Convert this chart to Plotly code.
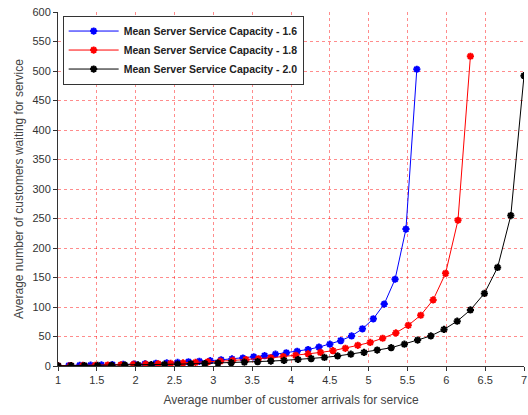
import plotly.graph_objects as go

# Series 1: Mean Server Service Capacity - 1.6
x_blue = [1.00, 1.14, 1.28, 1.42, 1.56, 1.70, 1.84, 1.98, 2.12, 2.26, 2.40, 2.54,
          2.68, 2.82, 2.96, 3.10, 3.24, 3.38, 3.52, 3.66, 3.80, 3.94, 4.08, 4.22,
          4.36, 4.50, 4.64, 4.78, 4.92, 5.06, 5.20, 5.34, 5.48, 5.62]
y_blue = [0.6, 0.8, 1.1, 1.4, 1.8, 2.2, 2.7, 3.2, 3.8, 4.5, 5.2, 6.0,
          7.0, 8.0, 9.0, 10.5, 12.0, 13.5, 15.5, 17.5, 20.0, 22.5, 25.0, 28.0,
          32.0, 37.0, 43.0, 51.0, 63.0, 80.0, 105.0, 147.0, 232.0, 503.0]

# Series 2: Mean Server Service Capacity - 1.8
x_red = [1.00, 1.16, 1.32, 1.48, 1.64, 1.81, 1.97, 2.13, 2.29, 2.45, 2.61, 2.77,
         2.93, 3.09, 3.25, 3.42, 3.58, 3.74, 3.90, 4.06, 4.22, 4.38, 4.54, 4.70,
         4.86, 5.02, 5.18, 5.35, 5.51, 5.67, 5.83, 5.99, 6.15, 6.31]
y_red = [0.5, 0.7, 1.0, 1.3, 1.7, 2.1, 2.6, 3.1, 3.7, 4.4, 5.2, 6.1,
         7.1, 8.2, 9.4, 10.8, 12.3, 14.0, 16.0, 18.0, 20.5, 23.0, 26.0, 30.0,
         35.0, 40.0, 47.0, 56.0, 69.0, 86.0, 112.0, 157.0, 247.0, 525.0]

# Series 3: Mean Server Service Capacity - 2.0
x_black = [1.00, 1.17, 1.34, 1.51, 1.69, 1.86, 2.03, 2.20, 2.37, 2.54, 2.71, 2.89,
           3.06, 3.23, 3.40, 3.57, 3.74, 3.91, 4.09, 4.26, 4.43, 4.60, 4.77, 4.94,
           5.11, 5.29, 5.46, 5.63, 5.80, 5.97, 6.14, 6.31, 6.49, 6.66, 6.83, 7.00]
y_black = [0.3, 0.5, 0.7, 0.9, 1.2, 1.5, 1.8, 2.2, 2.6, 3.1, 3.6, 4.2,
           4.9, 5.6, 6.4, 7.3, 8.3, 9.5, 11.0, 12.5, 14.5, 17.0, 20.0, 23.0,
           27.0, 31.0, 37.0, 44.0, 51.0, 62.0, 76.0, 95.0, 123.0, 167.0, 255.0, 492.0]

names = ["Mean Server Service Capacity - 1.6",
         "Mean Server Service Capacity - 1.8",
         "Mean Server Service Capacity - 2.0"]
colors = ["#0000ff", "#ff0000", "#000000"]

x_ticks = [1, 1.5, 2, 2.5, 3, 3.5, 4, 4.5, 5, 5.5, 6, 6.5, 7]
x_ticklabels = ["1", "1.5", "2", "2.5", "3", "3.5", "4", "4.5", "5", "5.5", "6", "6.5", "7"]
y_ticks = [0, 50, 100, 150, 200, 250, 300, 350, 400, 450, 500, 550, 600]

fig = go.Figure()
for xs, ys, nm, c in zip([x_blue, x_red, x_black], [y_blue, y_red, y_black], names, colors):
    fig.add_trace(go.Scatter(
        x=xs, y=ys, name=nm, mode="lines+markers",
        line=dict(color=c, width=1),
        marker=dict(symbol="asterisk-open", size=6, color=c,
                    line=dict(color=c, width=2)),
    ))

fig.update_layout(
    width=528, height=415,
    margin=dict(l=58, r=1, t=12, b=49),
    paper_bgcolor="white", plot_bgcolor="white",
    font=dict(family="Liberation Sans, Arial, sans-serif", size=11, color="#333333"),
    showlegend=True,
    legend=dict(
        x=0.01, y=0.99, xanchor="left", yanchor="top",
        bgcolor="white", bordercolor="#333333", borderwidth=1,
        font=dict(family="Liberation Sans, Arial, sans-serif", size=10.5,
                  color="#222222", weight="bold"),
        tracegroupgap=0, itemwidth=50,
    ),
    xaxis=dict(
        range=[1, 7], tickvals=x_ticks, ticktext=x_ticklabels,
        showgrid=True, gridcolor="rgba(255,0,0,0.45)", griddash="dot", gridwidth=1,
        showline=True, linecolor="#333333", linewidth=1,
        ticks="outside", ticklen=4, tickcolor="#333333",
        ticklabeloverflow="allow",
        zeroline=False,
        title=dict(text="Average number of customer arrivals for service",
                   font=dict(size=12, color="#444444"), standoff=10),
    ),
    yaxis=dict(
        range=[0, 600], tickvals=y_ticks,
        showgrid=True, gridcolor="rgba(255,0,0,0.45)", griddash="dot", gridwidth=1,
        showline=True, linecolor="#333333", linewidth=1,
        ticks="outside", ticklen=4, tickcolor="#333333",
        zeroline=False,
        title=dict(text="Average number of customers waiting for service",
                   font=dict(size=12, color="#444444"), standoff=6),
    ),
)

fig.write_html("out.html")
